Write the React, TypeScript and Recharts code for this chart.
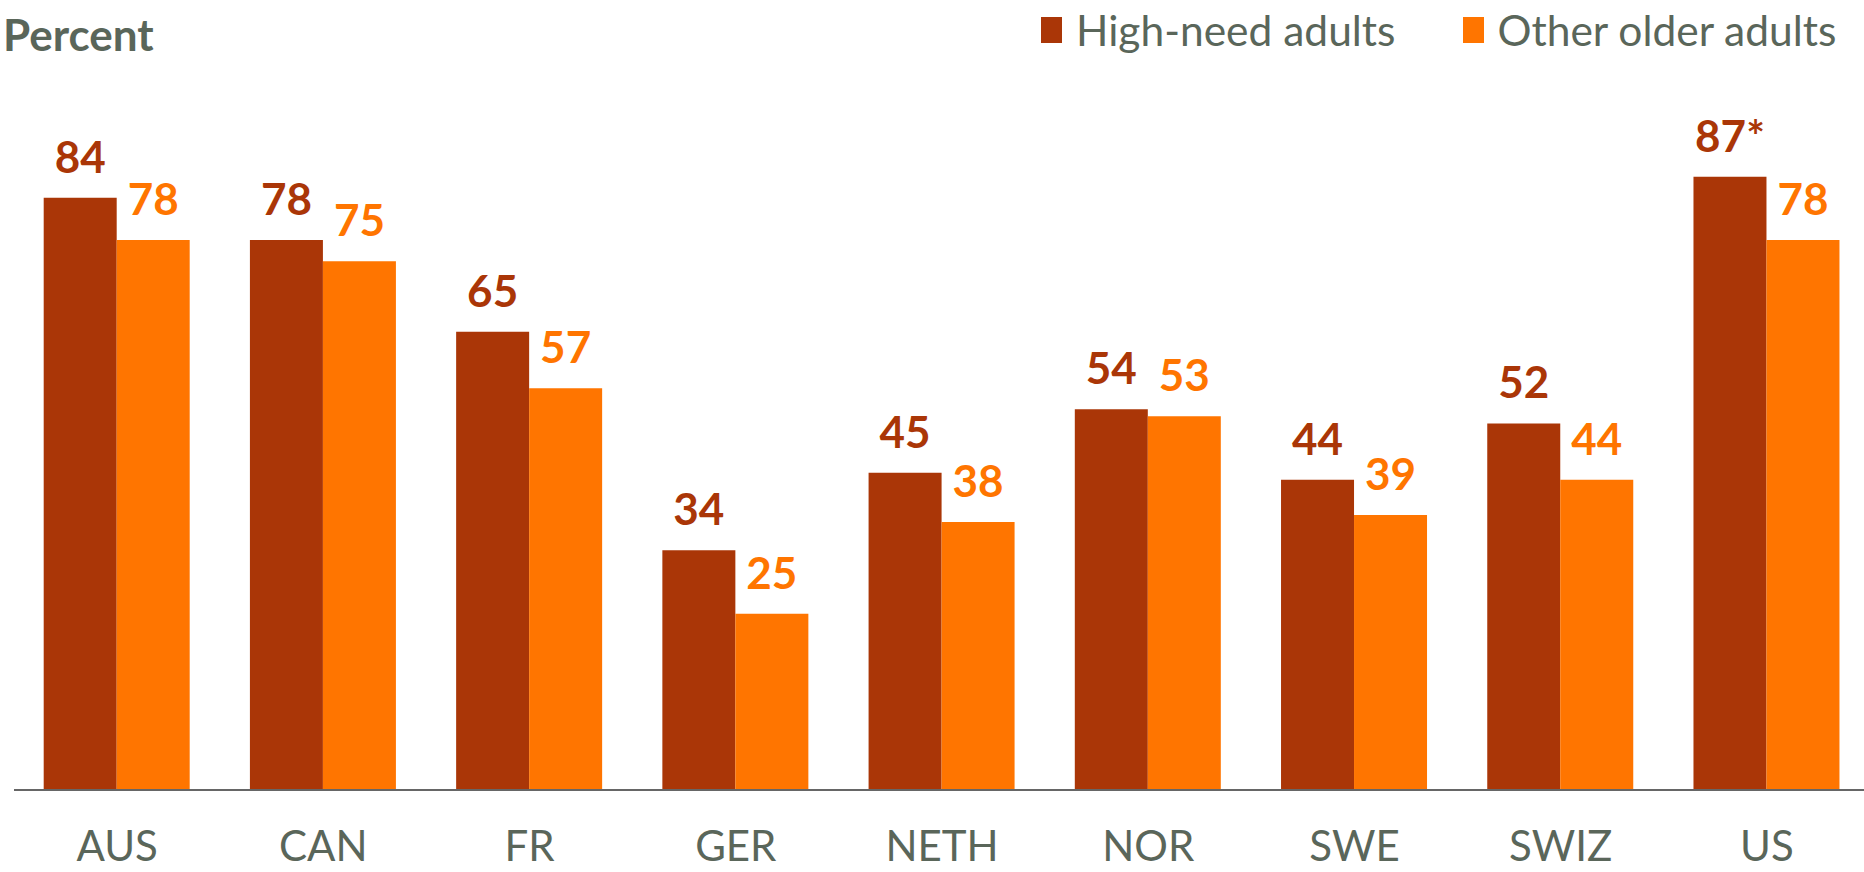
import React from 'react';
import { BarChart, Bar, XAxis, YAxis, LabelList } from 'recharts';

const categories = ['AUS', 'CAN', 'FR', 'GER', 'NETH', 'NOR', 'SWE', 'SWIZ', 'US'];
const highNeed = [84, 78, 65, 34, 45, 54, 44, 52, 87];
const highNeedLabels = ['84', '78', '65', '34', '45', '54', '44', '52', '87*'];
const otherOlder = [78, 75, 57, 25, 38, 53, 39, 44, 78];
const seriesNames = ['High-need adults', 'Other older adults'];

const DARK = '#AA3607';
const ORANGE = '#FF7500';
const GRAY = '#5A665A';
const FONT = 'Lato, "Open Sans", sans-serif';

const data = categories.map((c, i) => ({
  country: c,
  high: highNeed[i],
  highLabel: highNeedLabels[i],
  other: otherOlder[i],
}));

const LegendBox = () => (
  <div style={{ position: 'absolute', left: 1041, top: 3, display: 'flex', alignItems: 'center', fontFamily: FONT, fontSize: 42.5, color: GRAY, lineHeight: '54px', whiteSpace: 'nowrap' }}>
    <span style={{ display: 'inline-block', width: 21, height: 26, background: DARK, marginRight: 14 }} />
    <span style={{ marginRight: 67 }}>{seriesNames[0]}</span>
    <span style={{ display: 'inline-block', width: 21, height: 26, background: ORANGE, marginRight: 14 }} />
    <span>{seriesNames[1]}</span>
  </div>
);

export default function App() {
  return (
    <div style={{ position: 'absolute', left: 0, top: 0, width: 1864, height: 872, overflow: 'hidden', background: '#fff' }}>
      <div style={{ position: 'absolute', left: 3, top: 7, fontFamily: FONT, fontWeight: 700, fontSize: 44, color: GRAY, lineHeight: '54px' }}>
        Percent
      </div>
      <LegendBox />
      <BarChart
        width={1872}
        height={872}
        data={data}
        margin={{ top: 85, right: 2, bottom: 22, left: 14 }}
        barCategoryGap="14.4%"
        barGap={0}
      >
        <XAxis
          dataKey="country"
          tickLine={false}
          tickSize={0}
          tickMargin={41}
          height={60}
          axisLine={{ stroke: '#666', strokeWidth: 2 }}
          tick={{ fill: GRAY, fontSize: 42, fontFamily: FONT }}
          interval={0}
        />
        <YAxis hide domain={[0, 100]} />
        <Bar dataKey="high" name={seriesNames[0]} fill={DARK} isAnimationActive={false}>
          <LabelList dataKey="highLabel" position="top" offset={25} fill={DARK} fontSize={44} fontWeight={700} fontFamily={FONT} />
        </Bar>
        <Bar dataKey="other" name={seriesNames[1]} fill={ORANGE} isAnimationActive={false}>
          <LabelList dataKey="other" position="top" offset={25} fill={ORANGE} fontSize={44} fontWeight={700} fontFamily={FONT} />
        </Bar>
      </BarChart>
    </div>
  );
}
